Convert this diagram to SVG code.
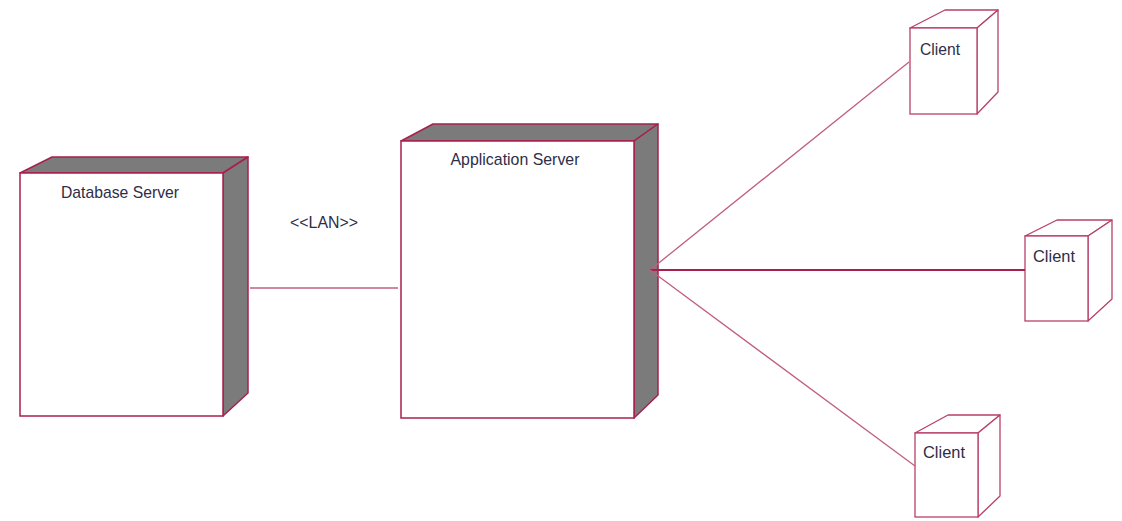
<svg xmlns="http://www.w3.org/2000/svg" width="1122" height="521" viewBox="0 0 1122 521">
<style>
.front{fill:#fff;stroke:#a8204e;stroke-width:1.5}
.side{fill:#7b7b7b;stroke:#a8204e;stroke-width:1.5;stroke-linejoin:round}
.cf{fill:#fff;stroke:#b8406a;stroke-width:1.3}
.cs{fill:#fff;stroke:#b8406a;stroke-width:1.3;stroke-linejoin:round}
.lbl{font-family:"Liberation Sans",Arial,sans-serif;font-size:17px;fill:#2e2e48}
.conn{stroke:#c0607e;stroke-width:1.3;fill:none}
</style>
<rect width="1122" height="521" fill="#fff"/>
<g id="database-server">
<polygon class="side" points="20,173 52,157 248,157 223,173"/>
<polygon class="side" points="223,173 248,157 248,393 223,416"/>
<rect class="front" x="20" y="173" width="203" height="243"/>
<text class="lbl" x="120" y="198" text-anchor="middle" textLength="118" lengthAdjust="spacingAndGlyphs">Database Server</text>
</g>
<g id="application-server">
<polygon class="side" points="401,141 433,124 658,124 634,141"/>
<polygon class="side" points="634,141 658,124 658,395 634,418"/>
<rect class="front" x="401" y="141" width="233" height="277"/>
<text class="lbl" x="515" y="165" text-anchor="middle" textLength="129" lengthAdjust="spacingAndGlyphs">Application Server</text>
</g>
<g id="client-1">
<polygon class="cs" points="910,28 945,10 998,10 977,28"/>
<polygon class="cs" points="977,28 998,10 998,92 977,114"/>
<rect class="cf" x="910" y="28" width="67" height="86"/>
<text class="lbl" x="940" y="55" text-anchor="middle" textLength="40" lengthAdjust="spacingAndGlyphs">Client</text>
</g>
<g id="client-2">
<polygon class="cs" points="1025,236 1057,220 1112,220 1088,236"/>
<polygon class="cs" points="1088,236 1112,220 1112,299 1088,321"/>
<rect class="cf" x="1025" y="236" width="63" height="85"/>
<text class="lbl" x="1054" y="262" text-anchor="middle" textLength="42" lengthAdjust="spacingAndGlyphs">Client</text>
</g>
<g id="client-3">
<polygon class="cs" points="915,433 948,415 1000,415 978,433"/>
<polygon class="cs" points="978,433 1000,415 1000,496 978,517"/>
<rect class="cf" x="915" y="433" width="63" height="84"/>
<text class="lbl" x="944" y="458" text-anchor="middle" textLength="42" lengthAdjust="spacingAndGlyphs">Client</text>
</g>
<g id="connectors">
<line class="conn" x1="250" y1="288" x2="398" y2="288"/>
<text class="lbl" x="324" y="228" text-anchor="middle" textLength="68" lengthAdjust="spacingAndGlyphs">&lt;&lt;LAN&gt;&gt;</text>
<line class="conn" x1="650" y1="270" x2="909" y2="62"/>
<line x1="650" y1="270" x2="1025" y2="270" stroke="#a8204e" stroke-width="2.2"/>
<line class="conn" x1="650" y1="270" x2="915" y2="466"/>
</g>
</svg>
